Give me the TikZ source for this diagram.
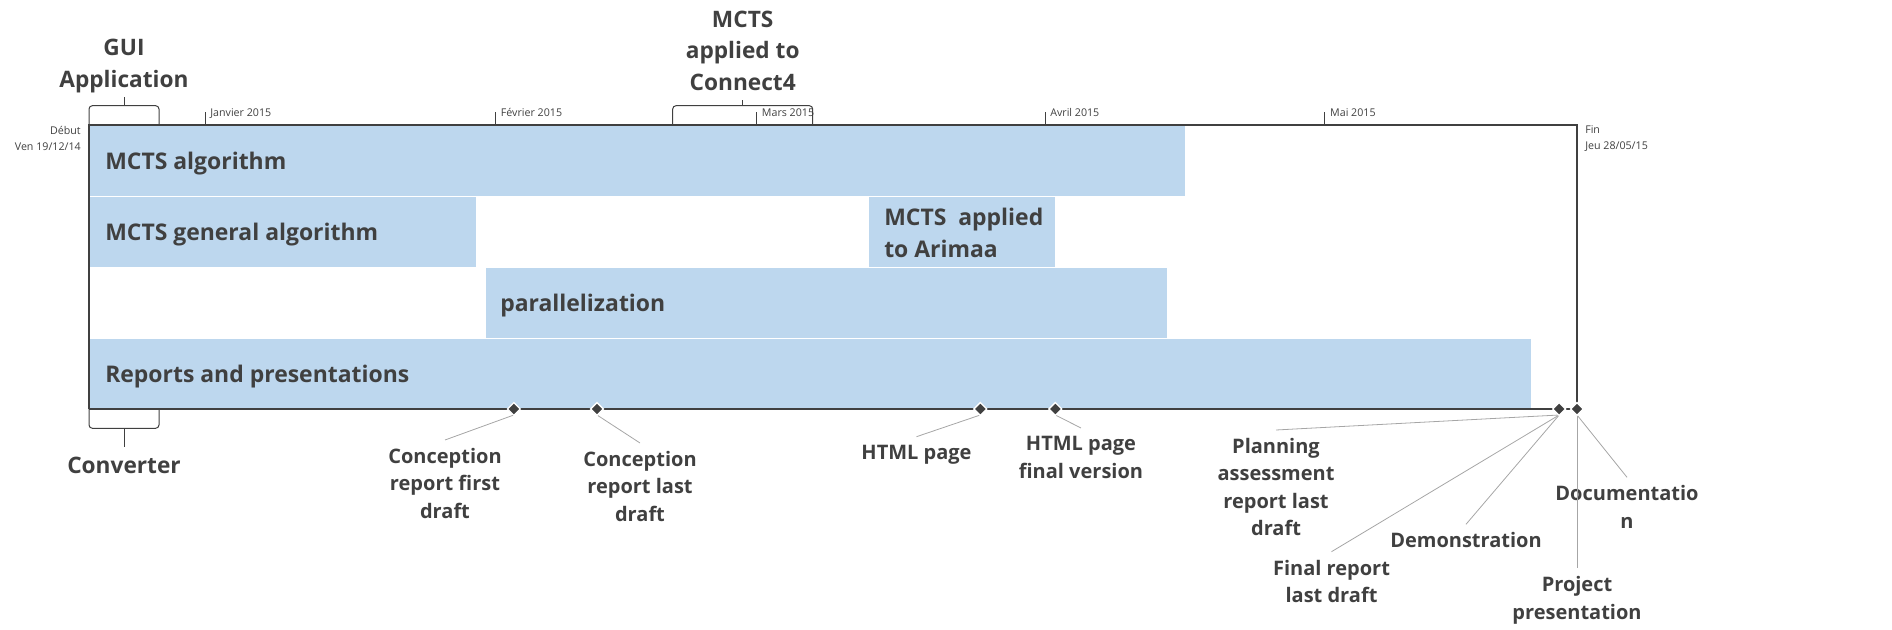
\documentclass[tikz,border=0pt]{standalone}
\usepackage{fontspec}
\setmainfont{Open Sans}
\usetikzlibrary{shapes.geometric}
\definecolor{barblue}{HTML}{BDD7EE}
\definecolor{ink}{HTML}{404040}
\definecolor{leadgray}{HTML}{A6A6A6}
\tikzset{
  bar/.style={fill=barblue},
  barlabel/.style={anchor=base west, inner sep=0pt, text=ink, font=\bfseries\fontsize{17.2}{23.8}\selectfont},
  datelabel/.style={inner sep=0pt, text=ink, font=\fontsize{8}{12}\selectfont},
  bracelabel/.style={align=center, inner xsep=0pt, inner ysep=6.75pt, text depth=0pt, text=ink, font=\bfseries\fontsize{17}{23.8}\selectfont},
  calloutlabel/.style={anchor=north, align=center, inner xsep=0pt, inner ysep=6pt, text=ink, font=\bfseries\fontsize{15}{20.6}\selectfont},
  milestone/.style={diamond, fill=ink, draw=white, line width=1pt, inner sep=0pt, minimum size=10pt},
  leader/.style={draw=leadgray, line width=0.6pt},
  brace/.style={draw=ink, line width=0.75pt, rounded corners=2.5pt},
  tick/.style={draw=ink, line width=0.75pt},
}

\begin{document}
\begin{tikzpicture}[x=0.75pt, y=-0.75pt]
  \useasboundingbox (0,0) rectangle (1892,630);

  % task bars
  \fill[bar] (89,125) rectangle (1185,196);
  \fill[bar] (89,197) rectangle (476,267);
  \fill[bar] (869,197) rectangle (1055,267);
  \fill[bar] (486,268) rectangle (1167,338);
  \fill[bar] (89,339) rectangle (1531,409);

  \node[barlabel] (algo) at (105,170) {MCTS algorithm};
  \node[barlabel] (general) at (105,241) {MCTS general algorithm};
  \node[barlabel, align=left, anchor=north west] (arimaa) at (884,208) {MCTS~ applied\\to Arimaa};
  \node[barlabel] (para) at (500,312) {parallelization};
  \node[barlabel] (reports) at (105,383) {Reports and presentations};

  % frame with months
  \draw[ink, line width=0.9pt] (89,409) -- (89,125) -- (1577,125)
    coordinate[pos = 0.078] (jan) coordinate[pos = 0.2733] (feb)
    coordinate[pos = 0.4487] (mar) coordinate[pos = 0.6425] (apr)
    coordinate[pos = 0.8306] (may) -- (1577,409);
  \draw[ink, line width=0.9pt] (89,409) -- (1577,409)
    coordinate[pos = 0.2855] (p1) coordinate[pos = 0.3414] (p2)
    coordinate[pos = 0.599] (p3) coordinate[pos = 0.6494] (p4)
    coordinate[pos = 0.988] (p5) coordinate[pos = 1] (p6);

  \draw[tick, shift = (jan)] (0,0) -- (0,-13);
  \node[datelabel, anchor=base west] (janlbl) at ([shift={(5,-8)}]jan) {Janvier 2015};
  \draw[tick, shift = (feb)] (0,0) -- (0,-13);
  \node[datelabel, anchor=base west] (feblbl) at ([shift={(5,-8)}]feb) {Février 2015};
  \draw[tick, shift = (mar)] (0,0) -- (0,-13);
  \node[datelabel, anchor=base west] (marlbl) at ([shift={(5,-8)}]mar) {Mars 2015};
  \draw[tick, shift = (apr)] (0,0) -- (0,-13);
  \node[datelabel, anchor=base west] (aprlbl) at ([shift={(5,-8)}]apr) {Avril 2015};
  \draw[tick, shift = (may)] (0,0) -- (0,-13);
  \node[datelabel, anchor=base west] (maylbl) at ([shift={(5,-8)}]may) {Mai 2015};

  \node[datelabel, anchor=east] (start) at (81,130) {Début};
  \node[datelabel, anchor=east] (startdate) at (81,147) {Ven 19/12/14};
  \node[datelabel, anchor=west] (finish) at (1585,130) {Fin};
  \node[datelabel, anchor=west] (finishdate) at (1585,147) {Jeu 28/05/15};

  % brackets
  \draw[brace] (89,125) -- (89,105.7) -- (159,105.7) -- (159,125);
  \coordinate (guiknot) at (124,105.7);
  \node[bracelabel, anchor=south] (gui) at (124,97) {GUI\\Application};
  \draw[brace] (guiknot) -- (gui.south);

  \draw[brace] (672.7,125) -- (672.7,105.7) -- (812.7,105.7) -- (812.7,125);
  \coordinate (c4knot) at (742.7,105.7);
  \node[bracelabel, anchor=south] (connect) at (742.7,100) {MCTS\\applied to\\Connect4};
  \draw[brace] (c4knot) -- (connect.south);

  \draw[brace] (89,409) -- (89,428.3) -- (159,428.3) -- (159,409);
  \coordinate (convknot) at (124,428.3);
  \node[bracelabel, anchor=north, inner ysep=7.5pt] (conv) at (124,446.7) {Converter};
  \draw[brace] (convknot) -- (conv.north);

  % milestones
  \node[calloutlabel] (cfirst) at (445,440) {Conception\\report first\\draft};
  \node[calloutlabel] (clast) at (640,443) {Conception\\report last\\draft};
  \node[calloutlabel] (html) at (916.5,436.7) {HTML page};
  \node[calloutlabel] (htmlfinal) at (1081,428) {HTML page\\final version};
  \node[calloutlabel] (plan) at (1276,430) {Planning\\assessment\\report last\\draft};
  \node[calloutlabel] (final) at (1331.5,551.7) {Final report\\last draft};
  \node[calloutlabel] (demo) at (1466,524.3) {Demonstration};
  \node[calloutlabel] (pres) at (1577,568.3) {Project\\presentation};
  \node[calloutlabel] (doc) at (1627,477.3) {Documentatio\\n};

  \draw[leader] (p1) ++(0,6) coordinate (p1s) (p1s) -- (cfirst.north);
  \draw[leader] (p2) ++(0,6) coordinate (p2s) (p2s) -- (clast.north);
  \draw[leader] (p3) ++(0,6) coordinate (p3s) (p3s) -- (html.north);
  \draw[leader] (p4) ++(0,6) coordinate (p4s) (p4s) -- (htmlfinal.north);
  \draw[leader] (p5) ++(0,6) coordinate (p5s) (p5s) -- (plan.north);
  \draw[leader] (p5s) -- (final.north);
  \draw[leader] (p5s) -- (demo.north);
  \draw[leader] (p6) ++(0,6) coordinate (p6s) (p6s) -- (pres.north);
  \draw[leader] (p6s) -- (doc.north);

  \node[milestone] (ms1) at (p1) {};
  \node[milestone] (ms2) at (p2) {};
  \node[milestone] (ms3) at (p3) {};
  \node[milestone] (ms4) at (p4) {};
  \node[milestone] (ms5) at (p5) {};
  \node[milestone] (ms6) at (p6) {};
\end{tikzpicture}
\end{document}
